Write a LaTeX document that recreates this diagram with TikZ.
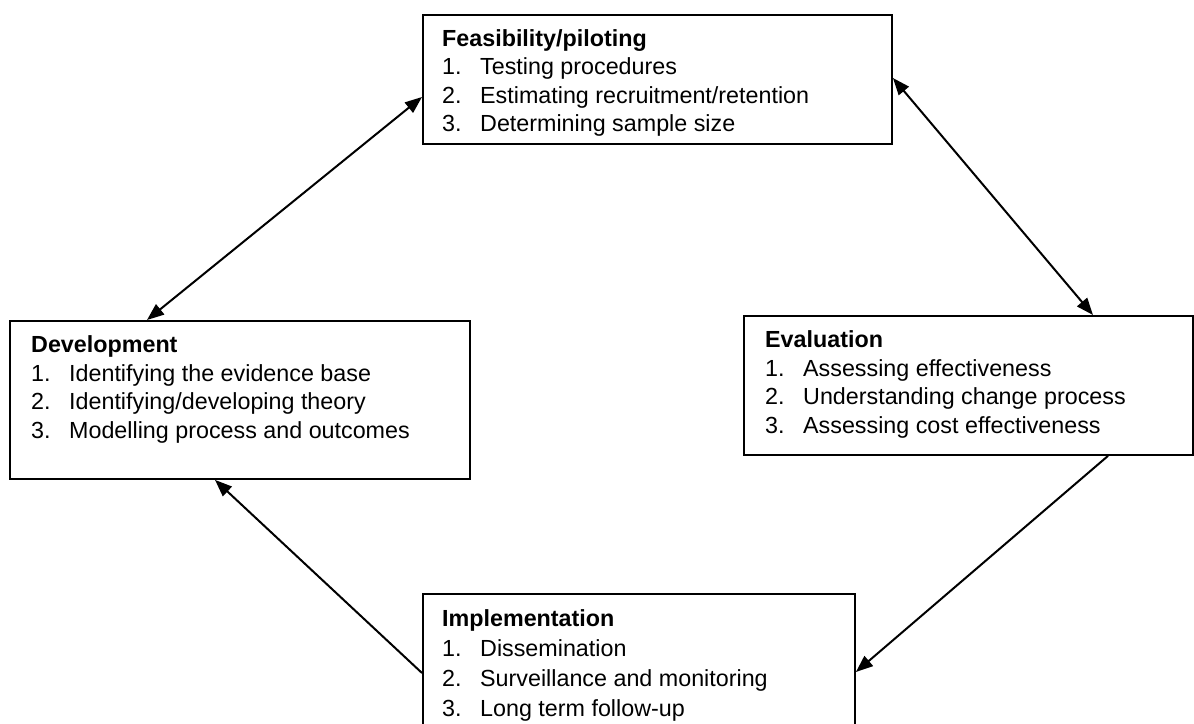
\documentclass[tikz,border=0pt]{standalone}
\usepackage{fontspec}
\setmainfont{Liberation Sans}
\usetikzlibrary{arrows.meta,calc}

\tikzset{
  stagebox/.style={draw=black, line width=1.9bp, fill=white, inner sep=0pt, anchor=north west},
  stagetext/.style={inner sep=0pt, anchor=base west, align=left,
    font=\fontsize{23.3bp}{28.5bp}\selectfont},
  loosetext/.style={stagetext, font=\fontsize{23.3bp}{30bp}\selectfont},
  tip/.style={},
  link/.style={line width=2bp, -{Triangle[length=17bp,width=13bp]}},
  twoway/.style={line width=2bp, {Triangle[length=17bp,width=13bp]}-{Triangle[length=17bp,width=13bp]}}
}

% title row followed by numbered items
\newcommand{\stagelist}[4]{%
  \begin{tabular}[t]{@{}p{38bp}@{}l@{}}
    \multicolumn{2}{@{}l@{}}{\bfseries #1}\\
    1. & #2\\
    2. & #3\\
    3. & #4
  \end{tabular}}

\begin{document}
\begin{tikzpicture}[x=1bp,y=-1bp]
  \useasboundingbox (0,0) rectangle (1194,724);

  % stage boxes
  \node[stagebox, minimum width=469bp, minimum height=129bp] (feas) at (422,14) {};
  \node[stagebox, minimum width=460bp, minimum height=158bp] (dev) at (9,320) {};
  \node[stagebox, minimum width=449bp, minimum height=139bp] (eval) at (743,315) {};
  \node[stagebox, minimum width=432bp, minimum height=150bp] (impl) at (422,593) {};

  % stage contents
  \node[stagetext] (feastxt) at ($(feas.north west)+(20,32.5)$)
    {\stagelist{Feasibility/piloting}{Testing procedures}{Estimating recruitment/retention}{Determining sample size}};
  \node[stagetext] (devtxt) at ($(dev.north west)+(22,32.5)$)
    {\stagelist{Development}{Identifying the evidence base}{Identifying/developing theory}{Modelling process and outcomes}};
  \node[stagetext] (evaltxt) at ($(eval.north west)+(22,32.5)$)
    {\stagelist{Evaluation}{Assessing effectiveness}{Understanding change process}{Assessing cost effectiveness}};
  \node[loosetext] (impltxt) at ($(impl.north west)+(20,33.5)$)
    {\stagelist{Implementation}{Dissemination}{Surveillance and monitoring}{Long term follow-up}};

  % attachment points on the box borders
  \coordinate (feasL) at ($(feas.north west)+(0,83)$);
  \coordinate (feasR) at ($(feas.north east)+(0,64)$);
  \coordinate (devT)  at ($(dev.north west)+(138,0)$);
  \coordinate (devB)  at ($(dev.south west)+(206,0)$);
  \coordinate (evalT) at ($(eval.north west)+(350,0)$);
  \coordinate (evalB) at ($(eval.south west)+(365,0)$);
  \coordinate (implR) at ($(impl.north east)+(0,79)$);
  \coordinate (implL) at ($(impl.north west)+(0,80)$);

  % connectors between stages
  \draw[twoway] (feasL) -- (devT);
  \draw[twoway] (feasR) -- (evalT);
  \draw[link] (evalB) -- (implR);
  \draw[link] (implL) -- (devB);
\end{tikzpicture}
\end{document}
